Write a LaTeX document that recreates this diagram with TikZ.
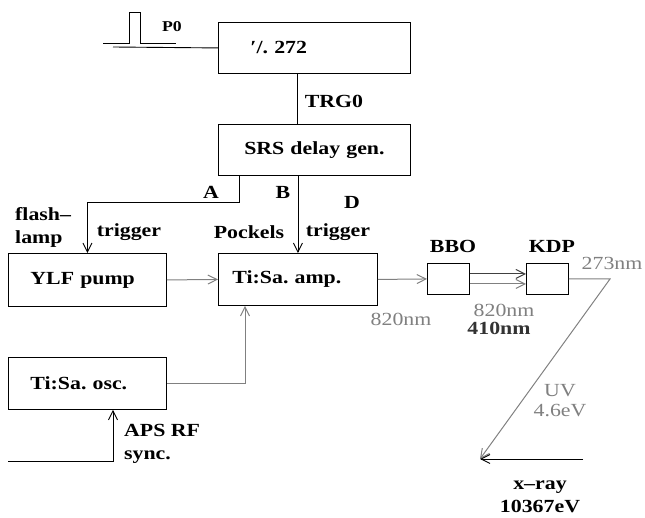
\documentclass[tikz,border=0pt]{standalone}
\usepackage{fontspec}
\setmainfont{Liberation Serif}[FakeStretch=1.18]
\usetikzlibrary{calc, arrows.meta}
\frenchspacing

\tikzset{
  unit/.style={draw, rectangle, line width=0.9pt, anchor=north west, inner ysep=0pt,
    font=\bfseries\fontsize{18.5}{20}\selectfont, align=left},
  lab/.style={font=\bfseries\fontsize{18.5}{23}\selectfont, inner sep=0pt},
  glab/.style={font=\fontsize{18.5}{20}\selectfont, text=black!50, inner sep=0pt},
  sig/.style={color=black, line width=0.9pt},
  opt/.style={color=black!50, line width=1pt},
  barb/.style={-{Straight Barb[length=9pt,width=9pt]}},
}

\begin{document}
\begin{tikzpicture}[x=1pt, y=-1pt]
\useasboundingbox (0,0) rectangle (645,518);

% boxes
\node[unit, minimum height=51pt, inner xsep=32pt, text width=128pt] (div) at (218,22) {′/. 272};
\node[unit, minimum height=51pt, inner xsep=16pt, text width=160pt, align=center] (srs) at (218,124) {SRS delay gen.};
\node[unit, minimum height=53pt, inner xsep=22pt, text width=114pt] (ylf) at (8,253) {YLF pump};
\node[unit, minimum height=52pt, inner xsep=14pt, text width=131pt] (amp) at (218,253) {Ti:Sa. amp.};
\node[unit, minimum height=31pt, minimum width=42pt] (bbo) at (427,263) {};
\node[unit, minimum height=31pt, minimum width=42pt] (kdp) at (526,263) {};
\node[unit, minimum height=52pt, inner xsep=22pt, text width=114pt] (osc) at (8,357) {Ti:Sa. osc.};

% free ends
\coordinate (p0in) at (113,47);
\coordinate (bend) at (610,279);
\coordinate (tgt) at (480,459);
\coordinate (xsrc) at (583,459);
\coordinate (rf) at (8,461);

% trigger chain
\draw[sig] (103,43) -- ++(26,0) -- ++(0,-31) -- ++(11,0) -- ++(0,31) -- (176,43); % pulse
\draw[sig] (p0in) -- (div.west);
\draw[sig] ($(div.south west)+(79,0)$) -- ($(srs.north west)+(79,0)$);
\draw[sig, barb] ($(srs.south west)+(21,0)$) -- ++(0,27) -| (ylf.north);
\draw[sig, barb] (amp.north |- srs.south) -- (amp.north);
\draw[sig, barb] (rf) -| ($(osc.south west)+(105,0)$);

% optical path
\draw[opt, barb] (ylf.east) -- (amp.west);
\draw[opt, barb] (osc.east) -| ($(amp.south west)+(27,0)$);
\draw[opt, barb] (amp.east) -- (bbo.west);
\foreach \dy/\c in {-5/black!75, 5/black!50}
  \draw[opt, \c, barb] ($(bbo.east)+(0,\dy)$) -- ($(kdp.west)+(0,\dy)$);
\draw[opt, barb] (kdp.east) -- (bend) -- (tgt);
\draw[sig, barb] (xsrc) -- (tgt);

% labels
\node[lab, font=\bfseries\fontsize{15}{18}\selectfont] (p0) at (172,27) {P0};
\node[lab] (trg) at (334,101) {TRG0};
\node[lab] (la) at (211,192) {A};
\node[lab] (lb) at (283,192) {B};
\node[lab] (ld) at (352,202) {D};
\node[lab, anchor=west, align=left] (flash) at (15,227) {flash--\\lamp};
\node[lab] (trga) at (129,232) {trigger};
\node[lab] (pock) at (249,232) {Pockels};
\node[lab] (trgd) at (338,232) {trigger};
\node[lab] (lbbo) at (453,246) {BBO};
\node[lab] (lkdp) at (552,246) {KDP};
\node[glab] (w1) at (401,319) {820nm};
\node[glab] (w2) at (504,310) {820nm};
\node[lab, text=black!80] (w4) at (499,328) {410nm};
\node[glab] (w3) at (612,263) {273nm};
\node[glab, align=center] (uv) at (560,401) {UV\\4.6eV};
\node[lab, align=center] (xray) at (540,497) {x--ray\\10367eV};
\node[lab, anchor=west, align=left] (aps) at (124,444) {APS RF\\sync.};

\end{tikzpicture}
\end{document}
